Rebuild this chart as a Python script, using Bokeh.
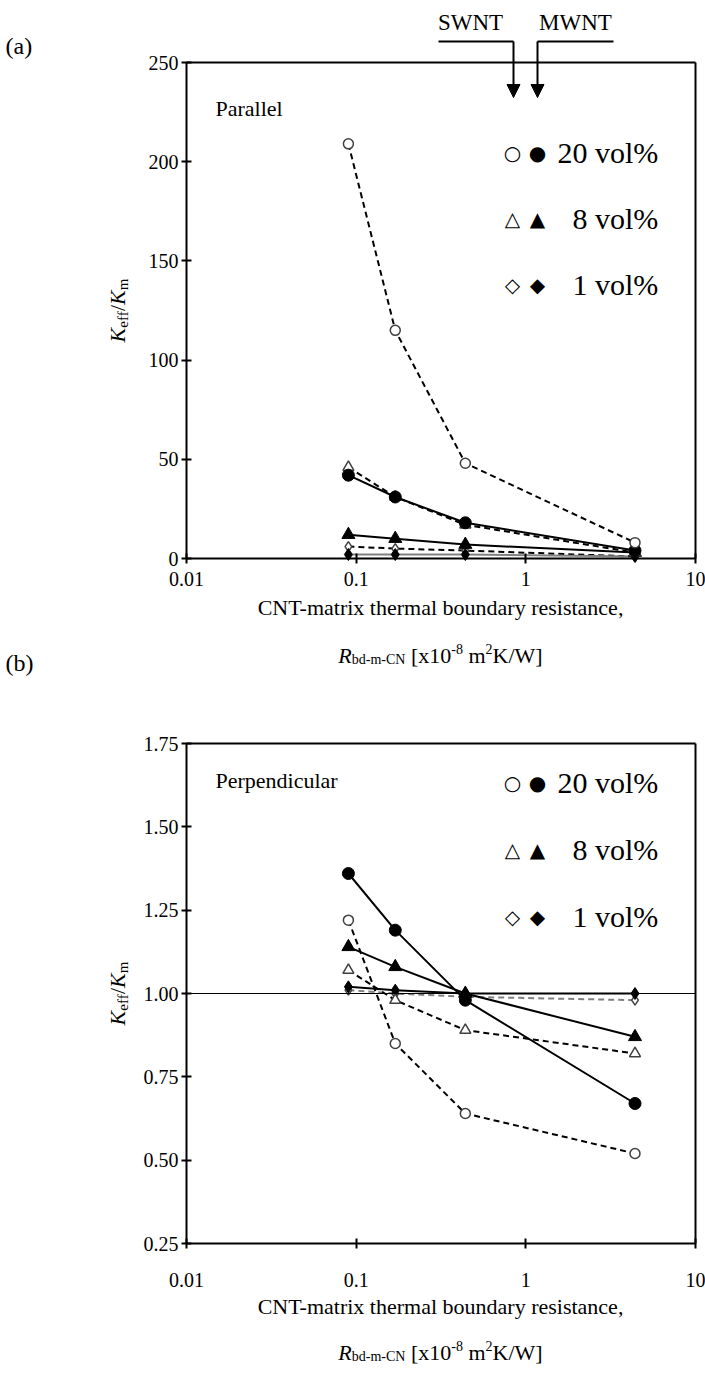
import math
from bokeh.plotting import figure
from bokeh.models import (Label, FixedTicker, Range1d, Arrow, NormalHead, LinearAxis, LogAxis,
                          NumeralTickFormatter, BasicTickFormatter, CustomJSTickFormatter)
from bokeh.layouts import column
from bokeh.embed import file_html
from bokeh.resources import INLINE

# ---------------- data ----------------
R_bd = [0.09, 0.17, 0.44, 4.4]

par_swnt_20 = [209, 115, 48, 8]
par_mwnt_20 = [42, 31, 18, 4]
par_swnt_8 = [46, 31, 17, 3]
par_mwnt_8 = [12, 10, 7, 3]
par_swnt_1 = [6, 5, 4, 1]
par_mwnt_1 = [2, 2, 2, 1]

perp_swnt_20 = [1.22, 0.85, 0.64, 0.52]
perp_mwnt_20 = [1.36, 1.19, 0.98, 0.67]
perp_swnt_8 = [1.07, 0.98, 0.89, 0.82]
perp_mwnt_8 = [1.14, 1.08, 1.00, 0.87]
perp_swnt_1 = [1.01, 1.00, 0.99, 0.98]
perp_mwnt_1 = [1.02, 1.01, 1.00, 1.00]

x_ticks = [0.01, 0.1, 1, 10]
ya_ticks = [0, 50, 100, 150, 200, 250]
yb_ticks = [0.25, 0.5, 0.75, 1.0, 1.25, 1.5, 1.75]
ya_lim = (0, 250)
yb_lim = (0.25, 1.75)

SERIF = "Liberation Serif"
PW = 705

# pixel layout of each panel (page pixels)
X_LEFT, X_RIGHT = 186, 695
DEC = (X_RIGHT - X_LEFT) / 3.0

_W = {" ": 250, "[": 333, "]": 333, "x": 500, "-": 333, "m": 778, "K": 722, "/": 278,
      "W": 944, "R": 667, "b": 500, "d": 500, "C": 667, "N": 722, "e": 444, "f": 333}


def tw(s, size, italic=False):
    tot = 0
    for ch in s:
        if ch.isdigit():
            tot += 500
        elif italic and ch == "K":
            tot += 667
        elif italic and ch == "R":
            tot += 611
        else:
            tot += _W.get(ch, 500)
    return tot * size / 1000.0


class Panel:
    def __init__(self, page_top, height, f_top, f_bot, ylim, yticks, yfmt, tick_standoff):
        self.page_top = page_top
        self.page_bot = page_top + height
        lx0 = -2 - X_LEFT / DEC
        lx1 = 1 + (PW - X_RIGHT) / DEC
        k = (ylim[1] - ylim[0]) / (f_bot - f_top)
        y_top = ylim[1] + (f_top - page_top) * k
        y_bot = ylim[0] - (self.page_bot - f_bot) * k
        p = figure(width=PW, height=height, x_axis_type="log",
                   x_range=Range1d(10 ** lx0, 10 ** lx1), y_range=Range1d(y_bot, y_top),
                   x_axis_location=None, y_axis_location=None, min_border=0,
                   output_backend="svg", toolbar_location=None)
        p.grid.visible = False
        p.outline_line_color = None
        p.background_fill_color = "white"
        p.border_fill_color = "white"
        xb = (x_ticks[0], x_ticks[-1])

        def style(ax, ticks, labels=True):
            ax.axis_line_width = 2
            ax.axis_line_color = "black"
            ax.minor_tick_line_color = None
            if ticks:
                ax.major_tick_line_width = 2
                ax.major_tick_line_color = "black"
                ax.major_tick_in = 5
                ax.major_tick_out = 5
            else:
                ax.major_tick_line_color = None
                ax.ticker = FixedTicker(ticks=[])
            ax.major_label_text_font = SERIF
            ax.major_label_text_font_size = "20px"
            ax.major_label_text_color = "black" if labels else None

        bottom = LogAxis(fixed_location=ylim[0], bounds=xb, ticker=FixedTicker(ticks=x_ticks),
                         formatter=CustomJSTickFormatter(code="return String(tick);"))
        style(bottom, True)
        bottom.major_label_standoff = tick_standoff
        p.add_layout(bottom, "below")
        left = LinearAxis(fixed_location=x_ticks[0], bounds=ylim,
                          ticker=FixedTicker(ticks=yticks), formatter=yfmt)
        style(left, True)
        left.major_label_standoff = 3
        p.add_layout(left, "left")
        top = LogAxis(fixed_location=ylim[1], bounds=xb)
        style(top, False, False)
        p.add_layout(top, "above")
        right = LinearAxis(fixed_location=x_ticks[-1], bounds=ylim)
        style(right, False, False)
        p.add_layout(right, "right")
        self.p = p

    def ref_line(self, yval):
        ax = LogAxis(fixed_location=yval, bounds=(x_ticks[0], x_ticks[-1]))
        ax.axis_line_width = 1
        ax.axis_line_color = "black"
        ax.major_tick_line_color = None
        ax.minor_tick_line_color = None
        ax.ticker = FixedTicker(ticks=[])
        ax.major_label_text_color = None
        self.p.add_layout(ax, "below")

    def lab(self, px, py, text, size, font=SERIF, style="normal", align="left",
            baseline="middle", angle=0.0):
        self.p.add_layout(Label(x=px, y=self.page_bot - py, x_units="screen", y_units="screen",
                                text=text, text_font=font, text_font_size=f"{size}px",
                                text_font_style=style, text_align=align,
                                text_baseline=baseline, angle=angle, text_color="black"))

    def rich_h(self, cx, cy, pieces):
        # pieces: (text, size, italic, dy_up, space_before)
        total = sum(tw(t, s, it) + sp * s / 4.0 for t, s, it, dy, sp in pieces)
        x = cx - total / 2
        for t, s, it, dy, sp in pieces:
            x += sp * s / 4.0
            self.lab(x, cy - dy, t, s, style="italic" if it else "normal")
            x += tw(t, s, it)

    def rich_v(self, cx, cy, pieces):
        total = sum(tw(t, s, it) for t, s, it, dy in pieces)
        y = cy + total / 2
        for t, s, it, dy in pieces:
            self.lab(cx - dy, y, t, s, style="italic" if it else "normal",
                     angle=math.pi / 2)
            y -= tw(t, s, it)

    def line_seg(self, x0, y0, x1, y1, head=False):
        self.p.add_layout(Arrow(x_start=x0, y_start=self.page_bot - y0, x_end=x1,
                                y_end=self.page_bot - y1, start_units="screen",
                                end_units="screen", line_width=2, line_color="black",
                                end=NormalHead(size=13, fill_color="black",
                                               line_color="black") if head else None))

    def series(self, ys, marker, filled, dashed, color="black", size=12):
        self.p.line(R_bd, ys, line_color=color, line_width=2,
                    line_dash="6 4" if dashed else "solid")
        if filled:
            self.p.scatter(R_bd, ys, marker=marker, size=size, fill_color="black",
                           line_color="black")
        else:
            self.p.scatter(R_bd, ys, marker=marker, size=size - 2, fill_color="white",
                           line_color="#404040", line_width=1.5)

    def x_titles(self, y1, y2):
        self.lab(440, y1, "CNT-matrix thermal boundary resistance,", 22, align="center")
        self.rich_h(440, y2, [("R", 22, True, 0, 0), ("bd-m-CN", 14, False, -4, 0),
                              ("[x10", 22, False, 0, 1), ("-8", 14, False, 7, 0),
                              ("m", 22, False, 0, 1), ("2", 14, False, 7, 0),
                              ("K/W]", 22, False, 0, 0)])

    def y_title(self, cy):
        self.rich_v(117, cy, [("K", 22, True, 0), ("eff", 15, False, -5),
                              ("/", 22, False, 0), ("K", 22, True, 0),
                              ("m", 15, False, -5)])

    def legend(self, ys):
        rows = [("\u25CB", "\u25CF", "20 vol%", 557), ("\u25B3", "\u25B2", "8 vol%", 572),
                ("\u25C7", "\u25C6", "1 vol%", 572)]
        for (s1, s2, t, tx), y in zip(rows, ys):
            self.lab(512, y, s1, 20, font="DejaVu Sans", align="center")
            self.lab(537, y, s2, 20, font="DejaVu Sans", align="center")
            self.lab(tx, y, t, 30)


# ---------------- panel (a) ----------------
A = Panel(0, 680, 62, 558, ya_lim, ya_ticks, BasicTickFormatter(), 8)
A.series(par_swnt_1, "diamond", False, True)
A.series(par_mwnt_1, "diamond", True, False, color="#808080")
A.series(par_mwnt_8, "triangle", True, False, size=13)
A.series(par_swnt_8, "triangle", False, True, size=13)
A.series(par_mwnt_20, "circle", True, False)
A.series(par_swnt_20, "circle", False, True)

A.lab(5, 45, "(a)", 24)
A.lab(470, 22, "SWNT", 23, align="center")
A.lab(575, 22, "MWNT", 23, align="center")
A.line_seg(438, 41, 513, 41)
A.line_seg(613, 41, 537, 41)
A.line_seg(513, 41, 513, 97, head=True)
A.line_seg(537, 41, 537, 97, head=True)
A.lab(215, 108, "Parallel", 22)
A.legend([152, 218, 284])
A.y_title(310)
A.x_titles(607, 655)
A.lab(5, 662, "(b)", 24)

# ---------------- panel (b) ----------------
B = Panel(680, 696, 743, 1243, yb_lim, yb_ticks, NumeralTickFormatter(format="0.00"), 24)
B.ref_line(1.0)
B.series(perp_swnt_1, "diamond", False, True, color="#808080")
B.series(perp_mwnt_1, "diamond", True, False)
B.series(perp_swnt_8, "triangle", False, True, size=13)
B.series(perp_mwnt_8, "triangle", True, False, size=13)
B.series(perp_swnt_20, "circle", False, True)
B.series(perp_mwnt_20, "circle", True, False)

B.lab(215, 780, "Perpendicular", 22)
B.legend([782, 849, 916])
B.y_title(993)
B.x_titles(1306, 1352)

layout = column(A.p, B.p, spacing=0)
open("out.html", "w").write(file_html(layout, INLINE))
